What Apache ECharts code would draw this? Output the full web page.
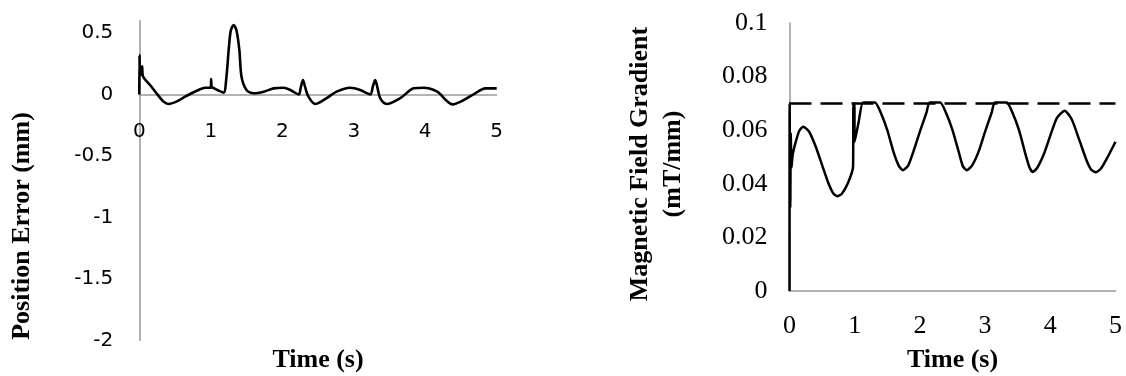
<!DOCTYPE html>
<html>
<head>
<meta charset="utf-8">
<script src="https://cdn.jsdelivr.net/npm/echarts@6/dist/echarts.min.js"></script>
<style>
html, body { margin: 0; padding: 0; background: #fff; }
#main { width: 1126px; height: 376px; }
</style>
</head>
<body>
<div id="main"></div>
<script>
// left panel: position error (mm) vs time (s)
var errTime = [0, 0.003, 0.01, 0.03, 0.04, 0.05, 0.1, 0.15, 0.24, 0.34, 0.41, 0.52, 0.62, 0.73, 0.82, 0.92,
    1.0, 1.005, 1.012, 1.03, 1.1, 1.18, 1.22, 1.25, 1.28, 1.32, 1.36, 1.40, 1.43, 1.5, 1.6, 1.74, 1.88,
    2.02, 2.12, 2.23, 2.26, 2.29, 2.32, 2.36, 2.46, 2.62, 2.76, 2.95, 3.09, 3.23, 3.27, 3.30, 3.33, 3.37,
    3.46, 3.65, 3.84, 3.98, 4.17, 4.28, 4.38, 4.54, 4.70, 4.84, 5.0];
var errValue = [0, 0.32, 0.17, 0.16, 0.23, 0.15, 0.11, 0.077, 0.01, -0.058, -0.077, -0.058, -0.025, 0.01, 0.035, 0.055,
    0.055, 0.125, 0.06, 0.055, 0.035, 0.015, 0.15, 0.36, 0.52, 0.565, 0.52, 0.36, 0.145, 0.037, 0.01, 0.023, 0.05,
    0.055, 0.035, 0.0, 0.06, 0.118, 0.06, -0.01, -0.077, -0.03, 0.023, 0.055, 0.037, 0.0, 0.07, 0.118, 0.06, -0.03,
    -0.077, -0.03, 0.05, 0.055, 0.023, -0.04, -0.08, -0.045, 0.01, 0.05, 0.05];

// right panel: magnetic field gradient (mT/mm) vs time (s)
var gradTime = [0, 0.002, 0.012, 0.02, 0.03, 0.05, 0.1, 0.15, 0.21, 0.3, 0.4, 0.5, 0.6, 0.67, 0.73, 0.8, 0.9,
    0.975, 0.98, 0.995, 1.0, 1.06, 1.13, 1.31, 1.4, 1.5, 1.6, 1.68, 1.74, 1.82, 1.9, 2.0, 2.1, 2.15,
    2.31, 2.4, 2.5, 2.6, 2.66, 2.72, 2.8, 2.9, 3.0, 3.1, 3.15, 3.33, 3.42, 3.52, 3.62, 3.68, 3.73,
    3.8, 3.9, 4.0, 4.1, 4.22, 4.33, 4.45, 4.56, 4.63, 4.70, 4.78, 4.88, 5.0];
var gradValue = [0, 0.07, 0.031, 0.059, 0.046, 0.051, 0.056, 0.0598, 0.0613, 0.0595, 0.054, 0.047, 0.040, 0.0365, 0.0354, 0.0362, 0.0405,
    0.0464, 0.07, 0.07, 0.0557, 0.063, 0.0703, 0.0703, 0.0665, 0.060, 0.0515, 0.0465, 0.0451, 0.0468, 0.052, 0.0595, 0.0665, 0.0703,
    0.0703, 0.0665, 0.060, 0.0515, 0.0465, 0.0451, 0.0468, 0.052, 0.0595, 0.0665, 0.0703, 0.0703, 0.0665, 0.060, 0.051, 0.0462, 0.0444,
    0.046, 0.051, 0.058, 0.0645, 0.0673, 0.064, 0.056, 0.0485, 0.0452, 0.0443, 0.0458, 0.050, 0.0557];
var limitTime = [0, 5];
var limitValue = [0.07, 0.07];

function pairs(xs, ys) {
    var out = [];
    for (var i = 0; i < xs.length; i++) {
        out.push([xs[i], ys[i]]);
    }
    return out;
}

var axisGrey = { show: true, onZero: false, lineStyle: { color: '#9a9a9a', width: 1.5 } };
var sansLabel = { color: '#000', fontFamily: 'DejaVu Sans', fontSize: 20 };
var serifLabel = { color: '#000', fontFamily: 'Liberation Serif', fontSize: 26 };
var titleFont = { fontFamily: 'Liberation Serif', fontWeight: 'bold', fontSize: 26, fill: '#000' };

var myChart = echarts.init(document.getElementById('main'));
var option = {
    animation: false,
    backgroundColor: '#fff',
    grid: [
        { left: 139.3, top: 20.7, width: 357.4, height: 319.8 },
        { left: 789.5, top: 23, width: 326, height: 268 }
    ],
    xAxis: [
        {
            // x axis sits on y = 0, which is 246px above the grid bottom
            gridIndex: 0, type: 'value', min: 0, max: 5, interval: 1, offset: -246,
            axisLine: axisGrey, axisTick: { show: false }, splitLine: { show: false },
            axisLabel: Object.assign({ margin: 27 }, sansLabel)
        },
        {
            gridIndex: 1, type: 'value', min: 0, max: 5, interval: 1,
            axisLine: axisGrey, axisTick: { show: false }, splitLine: { show: false },
            axisLabel: Object.assign({ margin: 22 }, serifLabel)
        }
    ],
    yAxis: [
        {
            gridIndex: 0, type: 'value', min: -2, max: 0.6, interval: 0.5,
            axisLine: axisGrey, axisTick: { show: false }, splitLine: { show: false },
            axisLabel: Object.assign({ margin: 26, showMaxLabel: false }, sansLabel)
        },
        {
            gridIndex: 1, type: 'value', min: 0, max: 0.1, interval: 0.02,
            axisLine: axisGrey, axisTick: { show: false }, splitLine: { show: false },
            axisLabel: Object.assign({ margin: 22 }, serifLabel)
        }
    ],
    series: [
        {
            name: 'Position Error', type: 'line', xAxisIndex: 0, yAxisIndex: 0,
            data: pairs(errTime, errValue), showSymbol: false, smooth: 0.3,
            lineStyle: { color: '#000', width: 2.6 }
        },
        {
            name: 'Limit', type: 'line', xAxisIndex: 1, yAxisIndex: 1,
            data: pairs(limitTime, limitValue), showSymbol: false,
            lineStyle: { color: '#000', width: 2.5, type: [22, 9] }
        },
        {
            name: 'Gradient', type: 'line', xAxisIndex: 1, yAxisIndex: 1,
            data: pairs(gradTime, gradValue), showSymbol: false, smooth: 0.2,
            lineStyle: { color: '#000', width: 2.5 }
        }
    ],
    graphic: [
        { type: 'text', x: 22.5, y: 226, rotation: Math.PI / 2,
          style: Object.assign({ text: 'Position Error (mm)', align: 'center', verticalAlign: 'middle' }, titleFont) },
        { type: 'text', x: 318, y: 360,
          style: Object.assign({ text: 'Time (s)', align: 'center', verticalAlign: 'middle' }, titleFont) },
        { type: 'text', x: 657, y: 164, rotation: Math.PI / 2,
          style: Object.assign({ text: 'Magnetic Field Gradient\n(mT/mm)', align: 'center', verticalAlign: 'middle', lineHeight: 33 }, titleFont) },
        { type: 'text', x: 952.5, y: 360,
          style: Object.assign({ text: 'Time (s)', align: 'center', verticalAlign: 'middle' }, titleFont) }
    ]
};
myChart.setOption(option);
</script>
</body>
</html>
